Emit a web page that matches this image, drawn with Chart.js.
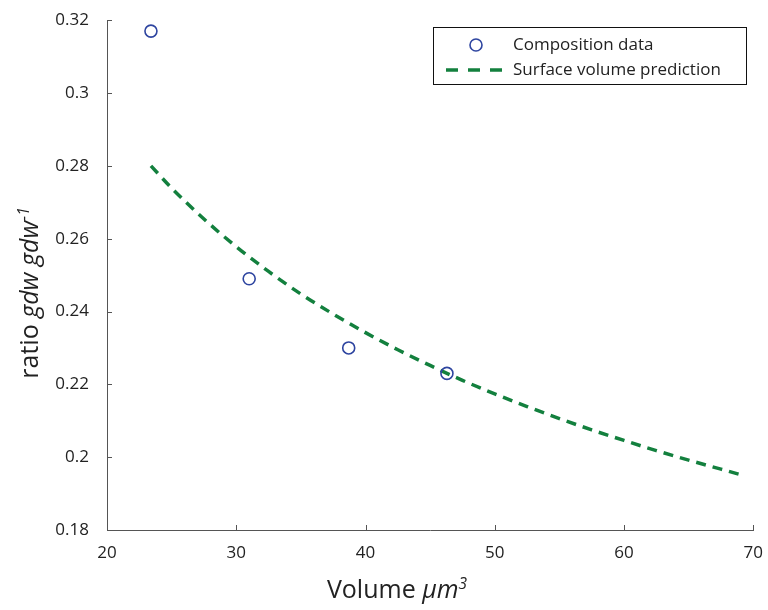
<!DOCTYPE html>
<html>
<head>
<meta charset="utf-8">
<script src="https://cdn.jsdelivr.net/npm/chart.js@4.4.0/dist/chart.umd.min.js"></script>
<style>
  html, body { margin: 0; padding: 0; background: #fff; }
  #wrap { width: 768px; height: 610px; }
</style>
</head>
<body>
<div id="wrap"><canvas id="chart" width="768" height="610"></canvas></div>
<script>
// composition data (volume, ratio)
var comp_volume = [23.4, 31.0, 38.7, 46.3];
var comp_ratio = [0.317, 0.249, 0.230, 0.223];

// surface volume prediction
var pred_volume = [23.4, 25, 27.5, 30, 32.5, 35, 37.5, 40, 42.5, 45, 47.5, 50, 52.5, 55, 57.5, 60, 62.5, 65, 67.5, 69];
var pred_ratio = [0.2800, 0.2739, 0.2654, 0.2578, 0.2510, 0.2448, 0.2393, 0.2342, 0.2295, 0.2252,
                  0.2211, 0.2174, 0.2139, 0.2106, 0.2075, 0.2046, 0.2018, 0.1992, 0.1967, 0.1952];

var x_ticks = [20, 30, 40, 50, 60, 70];
var y_ticks = [0.18, 0.2, 0.22, 0.24, 0.26, 0.28, 0.3, 0.32];

var legend_labels = ["Composition data", "Surface volume prediction"];

var font_family = "'Open Sans', 'DejaVu Sans', sans-serif";
var blue = "#2e45a0";
var green = "#13803e";

function to_points(xs, ys) {
  var pts = [];
  for (var i = 0; i < xs.length; i++) pts.push({ x: xs[i], y: ys[i] });
  return pts;
}

// draws text made of pieces, some italic, some superscript
function draw_pieces(ctx, pieces, size) {
  var widths = [];
  var total = 0;
  pieces.forEach(function (p) {
    var s = p.sup ? size * 0.62 : size;
    ctx.font = (p.italic ? "italic " : "") + s + "px " + font_family;
    var w = ctx.measureText(p.t).width;
    widths.push(w);
    total += w;
  });
  var x = -total / 2;
  pieces.forEach(function (p, i) {
    var s = p.sup ? size * 0.62 : size;
    ctx.font = (p.italic ? "italic " : "") + s + "px " + font_family;
    ctx.fillText(p.t, x, p.sup ? -size * 0.38 : 0);
    x += widths[i];
  });
}

var decorations = {
  id: 'decorations',
  afterDraw: function (chart) {
    var ctx = chart.ctx;
    var xs = chart.scales.x, ys = chart.scales.y;
    var area = chart.chartArea;
    ctx.save();

    // inward ticks
    ctx.strokeStyle = "#555";
    ctx.lineWidth = 1;
    ctx.beginPath();
    x_ticks.forEach(function (v) {
      var px = Math.round(xs.getPixelForValue(v)) + 0.5;
      ctx.moveTo(px, area.bottom);
      ctx.lineTo(px, area.bottom - 5);
    });
    y_ticks.forEach(function (v) {
      var py = Math.round(ys.getPixelForValue(v)) + 0.5;
      ctx.moveTo(area.left, py);
      ctx.lineTo(area.left + 5, py);
    });
    ctx.stroke();

    // axis titles
    ctx.fillStyle = "#222";
    ctx.textBaseline = "alphabetic";
    ctx.textAlign = "left";
    ctx.save();
    ctx.translate(397, 598);
    draw_pieces(ctx, [
      { t: "Volume " },
      { t: "\u03bcm", italic: true },
      { t: "3", italic: true, sup: true }
    ], 25);
    ctx.restore();

    ctx.save();
    ctx.translate(38, 293);
    ctx.rotate(-Math.PI / 2);
    draw_pieces(ctx, [
      { t: "ratio " },
      { t: "gdw gdw", italic: true },
      { t: "-1", italic: true, sup: true }
    ], 25);
    ctx.restore();

    // legend box
    var lx = 433.5, ly = 27.5, lw = 313, lh = 57;
    ctx.fillStyle = "#fff";
    ctx.fillRect(lx, ly, lw, lh);
    ctx.strokeStyle = "#111";
    ctx.lineWidth = 1;
    ctx.strokeRect(lx, ly, lw, lh);

    ctx.strokeStyle = blue;
    ctx.lineWidth = 1.6;
    ctx.beginPath();
    ctx.arc(476, 45, 6, 0, Math.PI * 2);
    ctx.stroke();

    ctx.strokeStyle = green;
    ctx.lineWidth = 3.5;
    ctx.setLineDash([12, 10]);
    ctx.beginPath();
    ctx.moveTo(446, 70);
    ctx.lineTo(506, 70);
    ctx.stroke();
    ctx.setLineDash([]);

    ctx.fillStyle = "#222";
    ctx.font = "17px " + font_family;
    ctx.textBaseline = "middle";
    ctx.fillText(legend_labels[0], 513, 45);
    ctx.fillText(legend_labels[1], 513, 70);
    ctx.restore();
  }
};

var chart_ctx = document.getElementById("chart").getContext('2d');
var chart = new Chart(chart_ctx, {
  type: 'scatter',
  data: {
    datasets: [{
      label: legend_labels[0],
      data: to_points(comp_volume, comp_ratio),
      pointStyle: 'circle',
      pointRadius: 6,
      pointBorderWidth: 1.6,
      pointBorderColor: blue,
      pointBackgroundColor: 'rgba(0,0,0,0)',
      showLine: false
    }, {
      label: legend_labels[1],
      data: to_points(pred_volume, pred_ratio),
      showLine: true,
      borderColor: green,
      borderWidth: 3.5,
      borderDash: [10, 7],
      pointRadius: 0,
      cubicInterpolationMode: 'monotone',
      fill: false
    }]
  },
  options: {
    responsive: false,
    animation: false,
    layout: { padding: { left: 0, right: 11, top: 18, bottom: 0 } },
    plugins: {
      legend: { display: false },
      tooltip: { enabled: false }
    },
    scales: {
      x: {
        type: 'linear',
        min: 20,
        max: 70,
        grid: { display: false },
        border: { display: true, color: '#555', width: 1 },
        ticks: {
          stepSize: 10,
          padding: 5,
          color: '#222',
          font: { family: font_family, size: 17 }
        },
        afterFit: function (scale) { scale.height = 80; }
      },
      y: {
        type: 'linear',
        min: 0.18,
        max: 0.32,
        grid: { display: false },
        border: { display: true, color: '#555', width: 1 },
        ticks: {
          stepSize: 0.02,
          padding: 10,
          color: '#222',
          font: { family: font_family, size: 17 },
          callback: function (v) { return String(+v.toFixed(2)); }
        },
        afterFit: function (scale) { scale.width = 107; }
      }
    }
  },
  plugins: [decorations]
});
</script>
</body>
</html>
